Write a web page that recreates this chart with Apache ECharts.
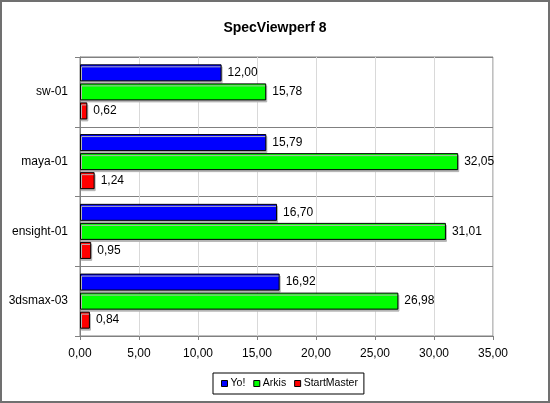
<!DOCTYPE html>
<html>
<head>
<meta charset="utf-8">
<script src="https://cdn.jsdelivr.net/npm/echarts@6/dist/echarts.min.js"></script>
<style>
  html, body { margin: 0; padding: 0; background: #fff; }
  #chart { width: 550px; height: 403px; }
</style>
</head>
<body>
<div id="chart"></div>
<script>
// Datos del gráfico
var categories = ['sw-01', 'maya-01', 'ensight-01', '3dsmax-03'];
var seriesNames = ['Yo!', 'Arkis', 'StartMaster'];
var yoValues = [12.00, 15.79, 16.70, 16.92];
var arkisValues = [15.78, 32.05, 31.01, 26.98];
var startMasterValues = [0.62, 1.24, 0.95, 0.84];
var seriesColors = ['#0000ff', '#00ff00', '#ff0000'];

function comma(v) {
    return Number(v).toFixed(2).replace('.', ',');
}

var chart = echarts.init(document.getElementById('chart'));

function makeSeries(name, data, color) {
    return {
        name: name,
        type: 'bar',
        data: data,
        barWidth: 17,
        barGap: '12%',
        itemStyle: {
            color: color, borderColor: '#000', borderWidth: 1,
            shadowColor: '#b4b4b4', shadowOffsetX: 1, shadowOffsetY: 2, shadowBlur: 0
        },
        label: {
            show: true,
            position: 'right',
            distance: 6,
            color: '#000',
            fontFamily: 'Arial, Liberation Sans',
            fontSize: 12,
            formatter: function (p) { return comma(p.value); }
        }
    };
}

var option = {
    animation: false,
    backgroundColor: '#fff',
    title: {
        text: 'SpecViewperf 8',
        left: 'center',
        top: 16,
        textStyle: { fontFamily: 'Arial, Liberation Sans', fontSize: 14, fontWeight: 'bold', color: '#000' }
    },
    graphic: [{
        type: 'rect',
        shape: { x: 1, y: 1, width: 548, height: 401 },
        style: { fill: 'none', stroke: '#707070', lineWidth: 2 },
        silent: true
    }],
    legend: {
        data: seriesNames,
        top: 373,
        left: 213,
        icon: 'rect',
        itemWidth: 6,
        itemHeight: 6,
        itemGap: 8,
        padding: [5, 6, 5, 8],
        borderColor: '#000',
        borderWidth: 1,
        textStyle: { fontFamily: 'Arial, Liberation Sans', fontSize: 10.5, color: '#000', padding: [0, 0, 0, -2] },
        itemStyle: { borderColor: '#000', borderWidth: 1 }
    },
    grid: {
        left: 80,
        right: 57,
        top: 57,
        bottom: 67,
        show: true,
        borderColor: '#808080',
        borderWidth: 1
    },
    xAxis: {
        type: 'value',
        min: 0,
        max: 35,
        interval: 5,
        axisLine: { show: true, lineStyle: { color: '#808080' } },
        axisTick: { show: true, length: 4, lineStyle: { color: '#808080' } },
        splitLine: { show: true, lineStyle: { color: '#d9d9d9' } },
        axisLabel: {
            margin: 12,
            color: '#000',
            fontFamily: 'Arial, Liberation Sans',
            fontSize: 12,
            formatter: comma
        }
    },
    yAxis: {
        type: 'category',
        inverse: true,
        data: categories,
        axisLine: { show: true, lineStyle: { color: '#808080' } },
        axisTick: { show: true, length: 5, interval: 0, lineStyle: { color: '#808080' } },
        splitLine: { show: true, interval: 0, lineStyle: { color: '#808080' } },
        axisLabel: {
            margin: 12,
            color: '#000',
            fontFamily: 'Arial, Liberation Sans',
            fontSize: 12
        }
    },
    series: [
        makeSeries(seriesNames[0], yoValues, seriesColors[0]),
        makeSeries(seriesNames[1], arkisValues, seriesColors[1]),
        makeSeries(seriesNames[2], startMasterValues, seriesColors[2])
    ]
};

chart.setOption(option);
</script>
</body>
</html>
